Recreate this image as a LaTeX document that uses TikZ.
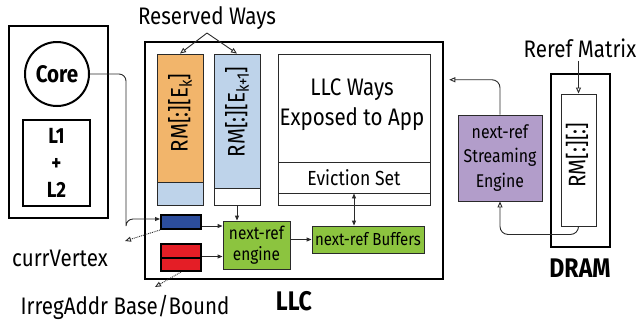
\documentclass[tikz,border=0pt]{standalone}
\usepackage{fontspec}
\setmainfont{Fira Sans}[FakeStretch=0.86]
\usetikzlibrary{arrows.meta,calc,positioning}
\definecolor{wayorange}{HTML}{F2B56B}
\definecolor{wayblue}{HTML}{BED3EA}
\definecolor{regblue}{HTML}{2C4D9C}
\definecolor{regred}{HTML}{E41E26}
\definecolor{enggreen}{HTML}{8CC43F}
\definecolor{strpurple}{HTML}{B29DCA}
\definecolor{linegray}{HTML}{2A2A2A}
\tikzset{
  thickbox/.style={draw, line width=2.5bp, inner sep=0pt},
  thinbox/.style={draw=linegray, line width=0.9bp, inner sep=0pt},
  regbox/.style={draw, line width=2bp, inner sep=0pt, minimum width=40bp},
  conn/.style={draw=linegray, line width=0.9bp},
  fhead/.style={-{Triangle[length=5bp,width=4bp]}},
  ohead/.style={-{Triangle[open,length=6bp,width=5bp]}},
  bigtxt/.style={font=\fontsize{24}{30}\selectfont},
  midtxt/.style={font=\fontsize{20.5}{25}\selectfont},
  smltxt/.style={font=\fontsize{17.5}{21}\selectfont},
}
\newcommand{\subk}[1]{\raisebox{-0.35ex}{\fontsize{17}{17}\selectfont #1}}
\begin{document}
\begin{tikzpicture}[x=1bp, y=-1bp]
\useasboundingbox (0,0) rectangle (641,322);
% core side
\node[thickbox, minimum width=99bp, minimum height=192bp] (cpu) at (58.5,122) {};
\node[draw, circle, line width=2bp, minimum size=64bp, inner sep=0pt, font=\fontsize{24}{30}\bfseries\selectfont] (core) at (57,74) {Core};
\node[draw, line width=2bp, minimum width=67bp, minimum height=86bp, align=center, font=\fontsize{22}{27}\bfseries\selectfont] (cache) at (56.5,163) {L1\\+\\L2};
% LLC
\node[thickbox, minimum width=298bp, minimum height=237bp] (llc) at (294,160.5) {};
\node[font=\fontsize{27}{30}\bfseries\selectfont] (llclbl) at (294,301) {LLC};
\node[thinbox, fill=wayorange, minimum width=46bp, minimum height=128bp] (wayAtop) at (180,118) {};
\node[thinbox, fill=wayblue, minimum width=46bp, minimum height=23bp] (wayAbot) at (180,193.5) {};
\node[thinbox, fill=wayblue, minimum width=46bp, minimum height=134bp] (wayBtop) at (237,121) {};
\node[thinbox, fill=white, minimum width=46bp, minimum height=17bp] (wayBbot) at (237,196.5) {};
\node[bigtxt, rotate=90] (wayAlbl) at (180,113) {RM[:][E\subk{k}]};
\node[bigtxt, rotate=90] (wayBlbl) at (237,112) {RM[:][E\subk{k+1}]};
\node[thinbox, minimum width=152bp, minimum height=108bp] (appways) at (354,108) {};
\node[thinbox, minimum width=152bp, minimum height=31bp] (evict) at (354,177.5) {};
\node[thinbox, minimum width=152bp, minimum height=12bp] (waysrest) at (354,199) {};
\node[bigtxt, align=center] (appwayslbl) at (352,105) {LLC Ways\\Exposed to App};
\node[midtxt] (evictlbl) at (354,178) {Eviction Set};
\node[bigtxt] (reserved) at (207,18) {Reserved Ways};
% registers and engine
\node[regbox, fill=regblue, minimum height=14bp] (currreg) at (181,222) {};
\node[regbox, fill=regred, minimum height=13.5bp] (basereg) at (181,250.75) {};
\node[regbox, fill=regred, minimum height=13.5bp] (boundreg) at (181,264.25) {};
\node[thinbox, fill=enggreen, minimum width=67bp, minimum height=48bp, align=center, smltxt, font=\fontsize{18}{21}\selectfont] (engine) at (256.5,245) {next-ref\\engine};
\node[thinbox, fill=enggreen, minimum width=112bp, minimum height=27bp, smltxt] (buffers) at (368,239.5) {next-ref Buffers};
\node[bigtxt] (currlbl) at (60,258) {currVertex};
\node[bigtxt] (irreglbl) at (125,307) {IrregAddr Base/Bound};
% DRAM side
\node[thinbox, fill=strpurple, minimum width=84bp, minimum height=86bp, align=center, font=\fontsize{18.5}{25}\selectfont] (stream) at (500,158) {next-ref\\Streaming\\Engine};
\node[thickbox, minimum width=59bp, minimum height=173bp] (dram) at (580.5,160.5) {};
\node[font=\fontsize{27}{30}\bfseries\selectfont] (dramlbl) at (580,268) {DRAM};
\node[thinbox, minimum width=35bp, minimum height=132bp] (rmall) at (578.5,160) {};
\node[bigtxt, rotate=90] (rmalllbl) at (577,155) {RM[:][:]};
\node[bigtxt] (reref) at (580,48) {Reref Matrix};
% connectors
\draw[conn, ohead] (reserved.south) -- (wayAtop.north);
\draw[conn, ohead] (reserved.south) -- (wayBtop.north);
\draw[conn, ohead] (reref.south -| rmall.north) -- (rmall.north);
\draw[conn, fhead, rounded corners=7bp] (core.east) -| ($(currreg.west)+(-34,0)$) |- ($(currreg.west)+(0,-3)$);
\draw[conn, fhead] ($(currreg.east)+(0,4)$) -- ($(currreg.east -| engine.west)+(0,4)$);
\draw[conn, fhead] (boundreg.north east) -- (boundreg.north east -| engine.west);
\draw[conn, fhead] (wayBbot.south) -- (wayBbot.south |- engine.north);
\draw[conn, fhead] (engine.east |- buffers.west) -- (buffers.west);
\draw[conn, {Triangle[length=5bp,width=4bp]}-{Triangle[length=5bp,width=4bp]}] (evict.south) -- (evict.south |- buffers.north);
\coordinate (llcin) at ($(llc.north east)+(5,39)$);
\draw[conn, ohead, rounded corners=8bp] (stream.north) |- (llcin);
\draw[conn, ohead, rounded corners=8bp] (rmall.south) -- ++(0,8) -| (stream.south);
\coordinate (currout) at (125,241);
\coordinate (irregout) at (155,287);
\draw[conn, ohead, densely dotted] (currreg.south west) -- (currout);
\draw[conn, ohead, densely dotted] (boundreg.south) -- (irregout);
\end{tikzpicture}
\end{document}
